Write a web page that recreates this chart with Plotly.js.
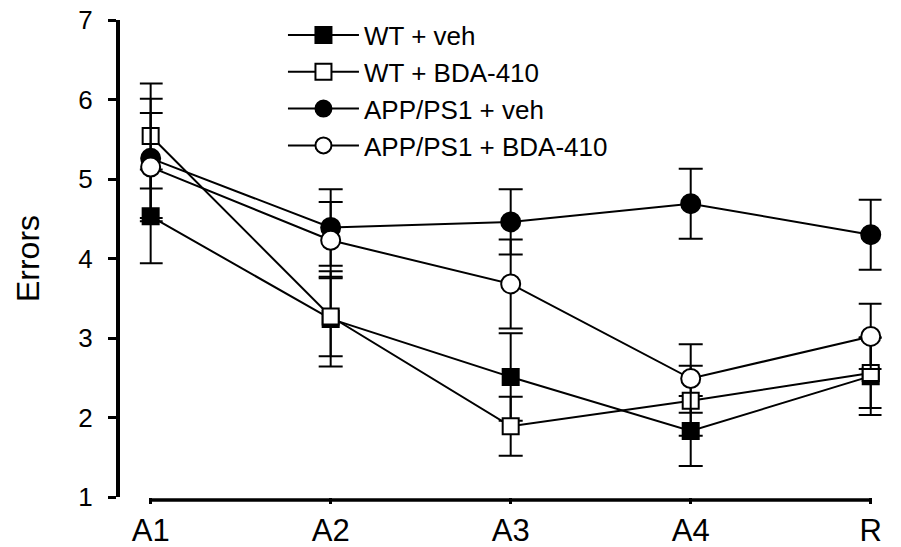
<!DOCTYPE html>
<html>
<head>
<meta charset="utf-8">
<script src="https://cdn.plot.ly/plotly-3.0.1.min.js"></script>
<style>html,body{margin:0;padding:0;background:#fff;}#chart{width:901px;height:547px;}</style>
</head>
<body>
<div id="chart"></div>
<script>
const categories = ['A1', 'A2', 'A3', 'A4', 'R'];
const seriesNames = ['WT + veh', 'WT + BDA-410', 'APP/PS1 + veh', 'APP/PS1 + BDA-410'];
const wtVeh = [4.53, 3.24, 2.51, 1.83, 2.52];
const wtVehErr = [0.59, 0.60, 0.55, 0.44, 0.49];
const wtBda = [5.54, 3.27, 1.89, 2.21, 2.56];
const wtBdaErr = [0.66, 0.50, 0.37, 0.44, 0.44];
const appVeh = [5.26, 4.39, 4.46, 4.69, 4.30];
const appVehErr = [0.75, 0.48, 0.41, 0.44, 0.44];
const appBda = [5.15, 4.23, 3.68, 2.49, 3.02];
const appBdaErr = [0.68, 0.48, 0.56, 0.43, 0.41];
const yTicks = [1, 2, 3, 4, 5, 6, 7];

const FONT = 'Liberation Sans, Arial, Helvetica, sans-serif';

function mk(name, y, err, symbol, fill, size) {
  return {
    type: 'scatter', mode: 'lines+markers', name: name,
    x: categories, y: y,
    cliponaxis: false,
    line: {color: '#000', width: 2},
    marker: {symbol: symbol, size: size, color: fill, line: {color: '#000', width: 2}},
    error_y: {type: 'data', array: err, visible: true, color: '#000', thickness: 2, width: 12}
  };
}

const data = [
  mk(seriesNames[0], wtVeh, wtVehErr, 'square', '#000', 16),
  mk(seriesNames[1], wtBda, wtBdaErr, 'square', '#fff', 16),
  mk(seriesNames[2], appVeh, appVehErr, 'circle', '#000', 19),
  mk(seriesNames[3], appBda, appBdaErr, 'circle', '#fff', 19)
];

const layout = {
  width: 901, height: 547,
  margin: {l: 60, r: 10, t: 20, b: 50},
  paper_bgcolor: '#fff', plot_bgcolor: '#fff',
  font: {family: FONT, color: '#000', size: 24},
  showlegend: true,
  legend: {
    x: 0.2683, y: 1.0176, xanchor: 'left', yanchor: 'top',
    font: {family: FONT, size: 26, color: '#000'},
    itemwidth: 71, bgcolor: 'rgba(0,0,0,0)', borderwidth: 0
  },
  xaxis: {
    type: 'category',
    domain: [0.0961, 0.9886],
    range: [-0.06, 4.06],
    showgrid: false, zeroline: false,
    showline: false,
    ticks: 'outside', ticklen: 6, tickwidth: 2.5, tickcolor: '#000',
    tickfont: {family: FONT, size: 31, color: '#000'},
    fixedrange: true
  },
  yaxis: {
    range: [1, 7],
    anchor: 'free', position: 0.0698,
    tickvals: yTicks, ticktext: yTicks.map(String),
    showgrid: false, zeroline: false,
    showline: true, linecolor: '#000', linewidth: 4,
    ticks: 'outside', ticklen: 8, tickwidth: 3, tickcolor: '#000',
    ticklabelstandoff: 10,
    tickfont: {family: FONT, size: 26, color: '#000'},
    title: {text: 'Errors', font: {family: FONT, size: 32, color: '#000'}, standoff: 28},
    automargin: false,
    fixedrange: true
  },
  shapes: [{
    type: 'line', xref: 'x', yref: 'paper',
    x0: 0, x1: 4, y0: -0.0063, y1: -0.0063,
    line: {color: '#000', width: 3.5}, layer: 'below'
  }]
};

Plotly.newPlot('chart', data, layout, {displayModeBar: false, staticPlot: true});
</script>
</body>
</html>
